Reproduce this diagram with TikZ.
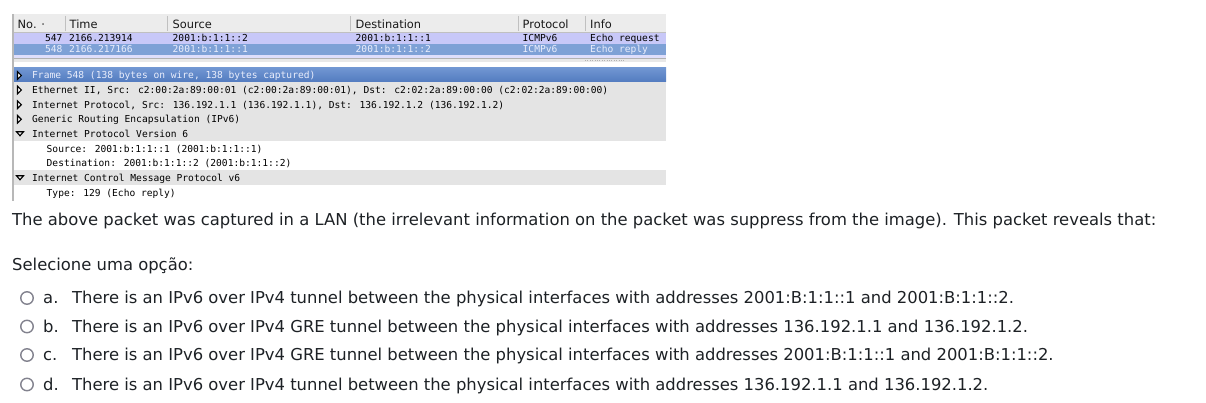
\documentclass[tikz,border=0pt]{standalone}
\usepackage{fontspec}
\setmainfont{DejaVu Sans}
\newfontfamily\wsmono{DejaVu Sans Mono}
\usetikzlibrary{positioning}

\definecolor{hdrgray}{RGB}{236,236,236}
\definecolor{hdrline}{RGB}{192,192,192}
\definecolor{rowlav}{RGB}{200,200,248}
\definecolor{rowsel}{RGB}{126,161,214}
\definecolor{seltext}{RGB}{234,238,252}
\definecolor{frametop}{RGB}{112,150,210}
\definecolor{framebot}{RGB}{84,124,192}
\definecolor{detgray}{RGB}{228,228,228}
\definecolor{radiogray}{RGB}{130,130,142}
\definecolor{qtext}{RGB}{29,33,37}

\tikzset{
  hdr/.style={anchor=base west, inner sep=0pt, font=\fontsize{11.4}{13}\selectfont, text=black!90},
  ws/.style={anchor=base west, inner sep=0pt, font=\wsmono\fontsize{9.6}{11}\selectfont, text=black},
  qtxt/.style={anchor=base west, inner sep=0pt, font=\fontsize{16.4}{19}\selectfont, text=qtext},
  radio/.style={circle, draw=radiogray, line width=1.4pt, minimum size=12.5pt, inner sep=0pt},
  tri/.style={draw=black, line width=1.1pt, line join=miter},
}

\begin{document}
\begin{tikzpicture}[x=1pt,y=-1pt]
	\useasboundingbox (0,0) rectangle (1206,403);

	% packet list
	\fill[hdrgray] (13,14) rectangle (666,32.5);
	\draw[hdrline] (13,32.5) -- (666,32.5);
	\foreach \sx in {65,167,350,518,585}
		\draw[hdrline] (\sx,16) -- (\sx,31);
	\node[hdr] (hNo) at (17.5,28.5) {No. ·};
	\node[hdr] (hTime) at (69.5,28.5) {Time};
	\node[hdr] (hSrc) at (172.5,28.5) {Source};
	\node[hdr] (hDst) at (355.5,28.5) {Destination};
	\node[hdr] (hProto) at (522.5,28.5) {Protocol};
	\node[hdr] (hInfo) at (590,28.5) {Info};

	\fill[rowlav] (13,33) rectangle (666,44);
	\fill[rowsel] (13,44) rectangle (666,55);
	\fill[rowlav!60] (13,55) rectangle (666,58);
	\fill[black!9] (13,58) rectangle (666,62.5);
	\draw[black!30] (13,58) -- (666,58);
	\draw[black!30, dotted] (585,60.3) -- (625,60.3);

	\node[ws, anchor=base east] (reqNo) at (62.7,42) {547};
	\node[ws] (reqTime) at (69,42) {2166.213914};
	\node[ws] (reqSrc) at (172.5,42) {2001:b:1:1::2};
	\node[ws] (reqDst) at (355.5,42) {2001:b:1:1::1};
	\node[ws] (reqProto) at (522.5,42) {ICMPv6};
	\node[ws] (reqInfo) at (590,42) {Echo request};

	\node[ws, anchor=base east, text=seltext] (repNo) at (62.7,53) {548};
	\node[ws, text=seltext] (repTime) at (69,53) {2166.217166};
	\node[ws, text=seltext] (repSrc) at (172.5,53) {2001:b:1:1::1};
	\node[ws, text=seltext] (repDst) at (355.5,53) {2001:b:1:1::2};
	\node[ws, text=seltext] (repProto) at (522.5,53) {ICMPv6};
	\node[ws, text=seltext] (repInfo) at (590,53) {Echo reply};

	% packet details
	\shade[top color=frametop, bottom color=framebot] (13,68) rectangle (666,81.5);
	\fill[detgray] (13,82.5) rectangle (666,141);
	\fill[detgray] (13,170.5) rectangle (666,185.5);
	\draw[black!28, line width=1.5pt] (13,14) -- (13,201);

	\node[ws, text=seltext] (dFrame) at (32,79) {Frame 548 (138 bytes on wire, 138 bytes captured)};
	\node[ws] (dEth) at (32,93.5) {Ethernet II, Src: c2:00:2a:89:00:01 (c2:00:2a:89:00:01), Dst: c2:02:2a:89:00:00 (c2:02:2a:89:00:00)};
	\node[ws] (dIp) at (32,108.2) {Internet Protocol, Src: 136.192.1.1 (136.192.1.1), Dst: 136.192.1.2 (136.192.1.2)};
	\node[ws] (dGre) at (32,122.8) {Generic Routing Encapsulation (IPv6)};
	\node[ws] (dIpv6) at (32,137.5) {Internet Protocol Version 6};
	\node[ws] (dSrc) at (46.5,152.2) {Source: 2001:b:1:1::1 (2001:b:1:1::1)};
	\node[ws] (dDst) at (46.5,166.8) {Destination: 2001:b:1:1::2 (2001:b:1:1::2)};
	\node[ws] (dIcmp) at (32,181.5) {Internet Control Message Protocol v6};
	\node[ws] (dType) at (46.5,196.2) {Type: 129 (Echo reply)};

	% expander triangles
	\foreach \ty in {75.5,90,104.7,119.3}
		\draw[tri, fill=white] (17.5,\ty-3.8) -- (21.3,\ty) -- (17.5,\ty+3.8) -- cycle;
	\foreach \ty in {134,178}
		\draw[tri] (16.5,\ty-2.2) -- (23.5,\ty-2.2) -- (20,\ty+1.8) -- cycle;

	% question
	\node[qtxt] (qStem) at (12,225.5) {The above packet was captured in a LAN (the irrelevant information on the packet was suppress from the image). This packet reveals that:};
	\node[qtxt] (qPick) at (12,270) {Selecione uma opção:};
	\foreach \l/\yb/\txt in {
		a/303.5/{There is an IPv6 over IPv4 tunnel between the physical interfaces with addresses 2001:B:1:1::1 and 2001:B:1:1::2.},
		b/332/{There is an IPv6 over IPv4 GRE tunnel between the physical interfaces with addresses 136.192.1.1 and 136.192.1.2.},
		c/360.5/{There is an IPv6 over IPv4 GRE tunnel between the physical interfaces with addresses 2001:B:1:1::1 and 2001:B:1:1::2.},
		d/390/{There is an IPv6 over IPv4 tunnel between the physical interfaces with addresses 136.192.1.1 and 136.192.1.2.}}
	{
		\node[radio] (r\l) at (27,\yb-5.5) {};
		\node[qtxt] (l\l) at (43,\yb) {\l.};
		\node[qtxt] (o\l) at (72,\yb) {\txt};
	}
\end{tikzpicture}
\end{document}
